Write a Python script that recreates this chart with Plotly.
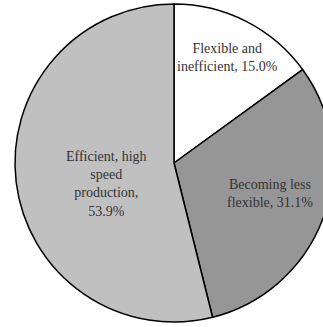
import plotly.graph_objects as go

# Share of respondents by production profile
labels = ["Flexible and inefficient", "Becoming less flexible", "Efficient, high speed production"]
values = [15.0, 31.1, 53.9]
label_lines = [["Flexible and", "inefficient, 15.0%"],
               ["Becoming less", "flexible, 31.1%"],
               ["Efficient, high", "speed", "production,", "53.9%"]]
colors = ["#ffffff", "#969696", "#c0c0c0"]

W, H = 340, 327
cx, cy, r = 174, 163, 159

fig = go.Figure(go.Pie(
    labels=labels,
    values=values,
    sort=False,
    direction="clockwise",
    rotation=0,
    marker=dict(colors=colors, line=dict(color="#000000", width=1.5)),
    textinfo="none",
    hoverinfo="label+percent",
    showlegend=False,
    domain=dict(x=[(cx - r) / W, (cx + r) / W],
                y=[(H - cy - r) / H, (H - cy + r) / H]),
))

# label anchor points (pixel centres of each text block)
label_pos = [(228, 58), (270, 193), (106, 184)]
for lines, (px, py) in zip(label_lines, label_pos):
    fig.add_annotation(
        text="<br>".join(lines),
        x=px / W, y=1 - py / H, xref="paper", yref="paper",
        xanchor="center", yanchor="middle", showarrow=False,
        align="center",
        font=dict(family="Liberation Serif", size=14, color="#333333"),
    )

fig.update_layout(
    width=W, height=H,
    margin=dict(l=0, r=0, t=0, b=0),
    paper_bgcolor="#ffffff",
    plot_bgcolor="#ffffff",
)

fig.write_html("out.html", config={"displayModeBar": False},
               post_script="document.body.style.overflow='hidden';")
